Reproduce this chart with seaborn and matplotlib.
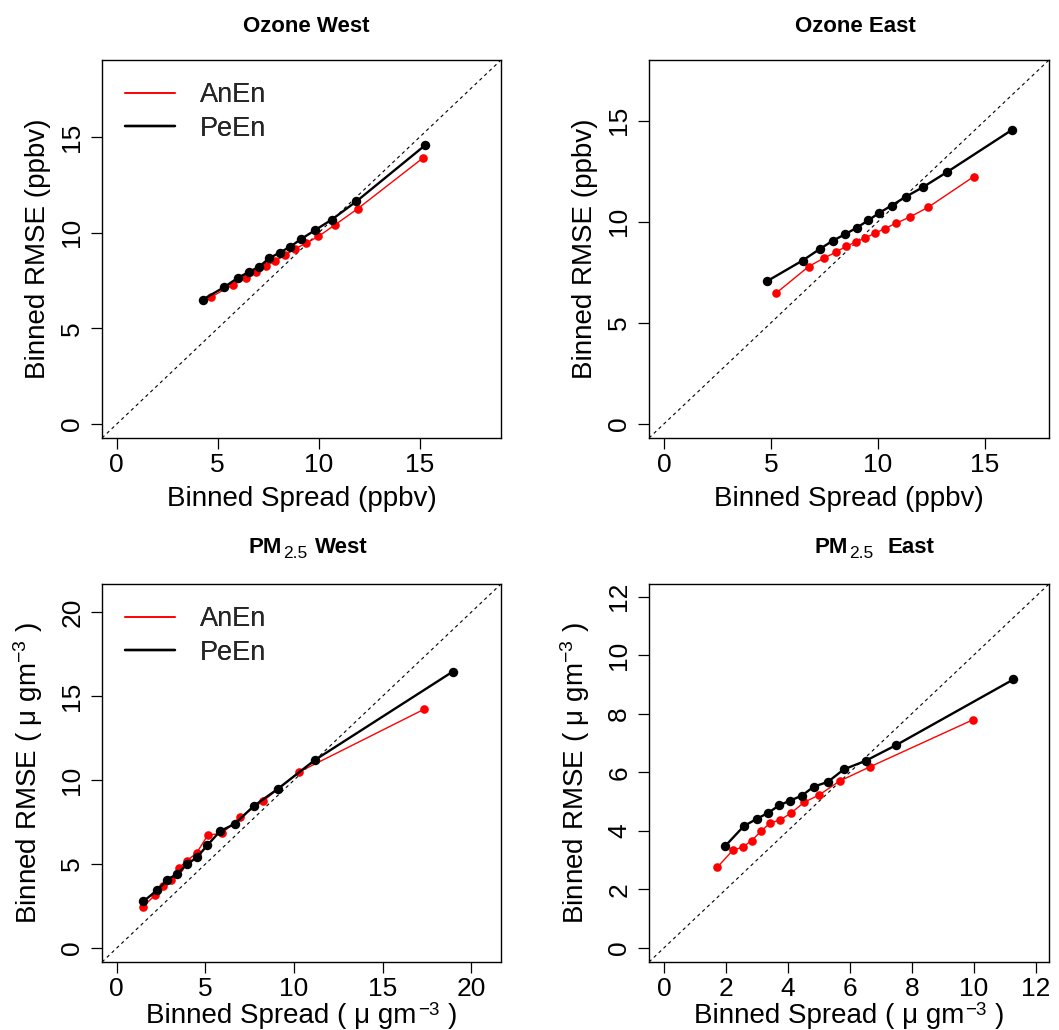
import matplotlib
matplotlib.use("Agg")
import matplotlib.pyplot as plt
from matplotlib.lines import Line2D
from matplotlib.transforms import IdentityTransform
import seaborn as sns

# ---------------- data ----------------
oz_w_an_x = [4.67, 5.74, 6.38, 6.90, 7.41, 7.85, 8.33, 8.82, 9.38, 9.99, 10.79, 11.94, 15.18]
oz_w_an_y = [6.64, 7.27, 7.63, 7.96, 8.26, 8.54, 8.82, 9.16, 9.45, 9.81, 10.40, 11.26, 13.92]
oz_w_pe_x = [4.25, 5.33, 5.98, 6.56, 7.05, 7.54, 8.07, 8.59, 9.13, 9.80, 10.64, 11.87, 15.28]
oz_w_pe_y = [6.50, 7.16, 7.63, 7.96, 8.22, 8.66, 8.96, 9.27, 9.67, 10.12, 10.68, 11.64, 14.58]

oz_e_an_x = [5.26, 6.76, 7.49, 8.04, 8.52, 8.97, 9.41, 9.86, 10.33, 10.86, 11.49, 12.36, 14.48]
oz_e_an_y = [6.48, 7.78, 8.21, 8.49, 8.79, 8.99, 9.20, 9.43, 9.66, 9.93, 10.23, 10.72, 12.23]
oz_e_pe_x = [4.84, 6.48, 7.30, 7.91, 8.47, 9.01, 9.54, 10.07, 10.64, 11.30, 12.11, 13.24, 16.28]
oz_e_pe_y = [7.07, 8.08, 8.66, 9.07, 9.38, 9.70, 10.06, 10.44, 10.80, 11.23, 11.71, 12.46, 14.55]

pm_w_an_x = [1.46, 2.14, 2.61, 3.06, 3.49, 3.95, 4.50, 5.14, 5.94, 6.94, 8.28, 10.31, 17.36]
pm_w_an_y = [2.44, 3.13, 3.71, 4.05, 4.74, 5.20, 5.65, 6.73, 6.83, 7.78, 8.77, 10.50, 14.23]
pm_w_pe_x = [1.50, 2.29, 2.85, 3.41, 3.97, 4.54, 5.12, 5.83, 6.67, 7.72, 9.09, 11.17, 18.97]
pm_w_pe_y = [2.78, 3.45, 4.07, 4.42, 4.98, 5.42, 6.13, 6.96, 7.40, 8.45, 9.48, 11.19, 16.47]

pm_e_an_x = [1.72, 2.22, 2.55, 2.84, 3.13, 3.43, 3.75, 4.11, 4.52, 5.02, 5.67, 6.66, 9.97]
pm_e_an_y = [2.75, 3.33, 3.45, 3.67, 3.98, 4.27, 4.37, 4.61, 4.97, 5.23, 5.70, 6.19, 7.79]
pm_e_pe_x = [1.98, 2.58, 3.00, 3.36, 3.72, 4.07, 4.45, 4.84, 5.29, 5.81, 6.51, 7.50, 11.28]
pm_e_pe_y = [3.48, 4.16, 4.41, 4.61, 4.87, 5.03, 5.20, 5.51, 5.67, 6.10, 6.39, 6.93, 9.17]

series_names = ["AnEn", "PeEn"]
ozone_ticks = [0, 5, 10, 15]
pmw_ticks = [0, 5, 10, 15, 20]
pme_ticks = [0, 2, 4, 6, 8, 10, 12]
xlab_oz = "Binned Spread (ppbv)"
ylab_oz = "Binned RMSE (ppbv)"
ylab_pm = "Binned RMSE ( \u03bc gm$^{-3}$ )"

# rich-text pieces: (text, fontsize, weight, baseline shift px, gap after px)
T_MAIN, T_SUB = 16, 12.5
titles = [
    [("Ozone West", T_MAIN, "bold", 0, 0)],
    [("Ozone East", T_MAIN, "bold", 0, 0)],
    [("PM", T_MAIN, "bold", 0, 1.5), ("2.5", T_SUB, "normal", -4.7, 8),
     ("West", T_MAIN, "bold", 0, 0)],
    [("PM", T_MAIN, "bold", 0, 1.5), ("2.5", T_SUB, "normal", -4.7, 14),
     ("East", T_MAIN, "bold", 0, 0)],
]
xlab_pm_pieces = [("Binned Spread ( \u03bc gm", 20, "normal", 0, 1.5),
                  ("\u22123", 13.5, "normal", 8, 8),
                  (")", 20, "normal", 0, 0)]

# ---------------- style ----------------
sns.set_theme(style="white")
plt.rcParams["font.family"] = ["Liberation Sans", "DejaVu Sans"]
plt.rcParams["mathtext.fontset"] = "custom"
plt.rcParams["mathtext.rm"] = "Liberation Sans"
plt.rcParams["mathtext.it"] = "Liberation Sans:italic"
plt.rcParams["mathtext.default"] = "regular"

W, H = 1059, 1030
fig = plt.figure(figsize=(W / 100, H / 100), dpi=100)
renderer = fig.canvas.get_renderer()

def ax_at(l, t, r, b):
    return fig.add_axes([l / W, 1 - b / H, (r - l) / W, (b - t) / H])

def rich_text(cx, base_top_px, pieces):
    arts = []
    for txt, fs, wt, dy, gap in pieces:
        a = fig.text(0, 0, txt, transform=IdentityTransform(), ha="left", va="baseline",
                     fontsize=fs, fontweight=wt, color="black")
        arts.append(a)
    widths = [a.get_window_extent(renderer).width for a in arts]
    total = sum(widths) + sum(pc[4] for pc in pieces[:-1])
    x = cx - total / 2
    yb = H - base_top_px
    for a, wdt, pc in zip(arts, widths, pieces):
        a.set_position((x, yb + pc[3]))
        x += wdt + pc[4]

panels = [
    dict(box=(102, 60, 501, 438), lim=18.3, ticks=ozone_ticks, xl=xlab_oz, yl=ylab_oz,
         an=(oz_w_an_x, oz_w_an_y), pe=(oz_w_pe_x, oz_w_pe_y), xb=68, yb=57,
         tc=306, tb=32),
    dict(box=(649, 60, 1049, 438), lim=17.3, ticks=ozone_ticks, xl=xlab_oz, yl=ylab_oz,
         an=(oz_e_an_x, oz_e_an_y), pe=(oz_e_pe_x, oz_e_pe_y), xb=68, yb=57,
         tc=855, tb=32),
    dict(box=(102, 584, 501, 962), lim=20.85, ticks=pmw_ticks, xl=None, yl=ylab_pm,
         an=(pm_w_an_x, pm_w_an_y), pe=(pm_w_pe_x, pm_w_pe_y), xb=61, yb=65,
         tc=308, tb=553),
    dict(box=(649, 584, 1049, 962), lim=11.95, ticks=pme_ticks, xl=None, yl=ylab_pm,
         an=(pm_e_an_x, pm_e_an_y), pe=(pm_e_pe_x, pm_e_pe_y), xb=61, yb=65,
         tc=874, tb=553),
]

FS = 19.5
for p, title in zip(panels, titles):
    l, t, r, b = p["box"]
    w, h = r - l, b - t
    ax = ax_at(l, t, r, b)
    L = p["lim"]
    lo, hi = -0.04 * L, 1.04 * L
    ax.axline((0, 0), slope=1, color="black", lw=0.8, linestyle=(0, (3, 3)), zorder=1)
    sns.lineplot(x=p["an"][0], y=p["an"][1], ax=ax, color="#ff0000", linewidth=1.0,
                 marker="o", markersize=6.2, markeredgewidth=0, sort=False,
                 estimator=None, zorder=2)
    sns.lineplot(x=p["pe"][0], y=p["pe"][1], ax=ax, color="black", linewidth=1.7,
                 marker="o", markersize=6.8, markeredgewidth=0, sort=False,
                 estimator=None, zorder=3)
    ax.set_xlim(lo, hi)
    ax.set_ylim(lo, hi)
    ax.set_xticks(p["ticks"])
    ax.set_yticks(p["ticks"])
    ax.set_xticklabels([str(v) for v in p["ticks"]])
    ax.set_yticklabels([str(v) for v in p["ticks"]], rotation=90, va="center")
    ax.tick_params(axis="both", which="major", direction="out", length=8, width=0.9,
                   labelsize=FS - 0.5, color="black", labelcolor="black",
                   bottom=True, left=True, top=False, right=False)
    ax.tick_params(axis="x", pad=3.0)
    ax.tick_params(axis="y", pad=4.7)
    for s in ax.spines.values():
        s.set_color("black")
        s.set_linewidth(1.0)
        s.set_visible(True)
    if p["xl"] is not None:
        ax.set_xlabel(p["xl"], fontsize=FS + 0.5, color="black")
        ax.xaxis.label.set_va("baseline")
        ax.xaxis.set_label_coords(0.5, -p["xb"] / h)
    else:
        ax.set_xlabel("")
        rich_text((l + r) / 2, b + p["xb"], xlab_pm_pieces)
    ax.set_ylabel(p["yl"], fontsize=FS + 0.5, color="black")
    ax.yaxis.label.set_va("baseline")
    ax.yaxis.set_label_coords(-p["yb"] / w, 0.5)
    rich_text(p["tc"], p["tb"], title)
    handles = [Line2D([0], [0], color="#ff0000", lw=1.2),
               Line2D([0], [0], color="black", lw=1.7)]
    ax.legend(handles, series_names, loc="upper left",
              bbox_to_anchor=((125 - l) / w, 1 - 22.5 / h),
              frameon=False, fontsize=FS, handlelength=1.85, handletextpad=0.9,
              labelspacing=0.26, borderpad=0, borderaxespad=0)

fig.savefig("out.png", dpi=100)
